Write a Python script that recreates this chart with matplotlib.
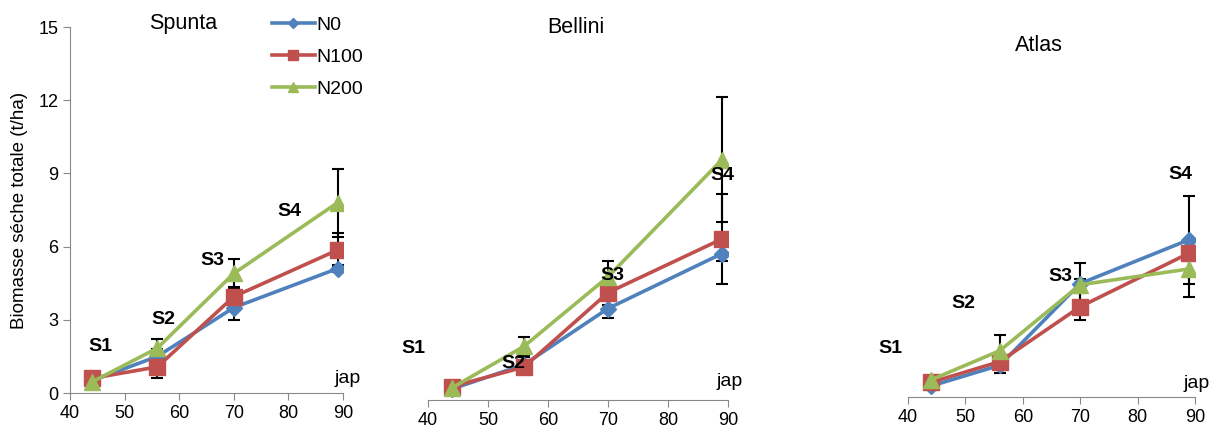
import matplotlib.pyplot as plt
import numpy as np

plt.rcParams['font.family'] = ['Liberation Sans', 'DejaVu Sans']

days = [44, 56, 70, 89]
series = ["N0", "N100", "N200"]

# Spunta
spunta_n0 = [0.5, 1.5, 3.5, 5.1]
spunta_n100 = [0.6, 1.07, 3.95, 5.86]
spunta_n200 = [0.45, 1.84, 4.9, 7.8]
spunta_err_n0 = [0.1, 0.3, 0.5, 0.15]
spunta_err_n100 = [0.1, 0.45, 0.4, 0.7]
spunta_err_n200 = [0.1, 0.36, 0.6, 1.4]

# Bellini
bellini_n0 = [0.45, 1.45, 3.75, 6.0]
bellini_n100 = [0.55, 1.35, 4.4, 6.6]
bellini_n200 = [0.5, 2.2, 5.05, 9.85]
bellini_err_n0 = [0.1, 0.3, 0.4, 0.3]
bellini_err_n100 = [0.1, 0.3, 0.5, 1.85]
bellini_err_n200 = [0.1, 0.4, 0.65, 2.55]

# Atlas
atlas_n0 = [0.45, 1.3, 4.65, 6.45]
atlas_n100 = [0.6, 1.45, 3.7, 5.9]
atlas_n200 = [0.7, 1.9, 4.6, 5.25]
atlas_err_n0 = [0.1, 0.3, 0.2, 1.8]
atlas_err_n100 = [0.1, 0.3, 0.55, 0.3]
atlas_err_n200 = [0.1, 0.65, 0.9, 1.15]

stage_labels = ["S1", "S2", "S3", "S4"]
spunta_stage_pos = [(45.5, 1.9), (57.0, 3.0), (66.1, 5.45), (80.2, 7.45)]
bellini_stage_pos = [(37.5, 2.13), (54.2, 1.5), (70.8, 5.1), (89.0, 9.2)]
atlas_stage_pos = [(36.9, 2.0), (49.6, 3.85), (66.5, 4.95), (87.4, 9.1)]

colors = ["#4F81BD", "#C0504D", "#9BBB59"]
markers = ["D", "s", "^"]
msizes = [8.5, 11, 11.5]

W, H = 1220, 432
fig = plt.figure(figsize=(W / 100, H / 100), dpi=100)


def px_axes(x0, x1, ybot, ytop):
    return fig.add_axes([x0 / W, 1 - ybot / H, (x1 - x0) / W, (ybot - ytop) / H])


panels = [
    dict(rect=(70, 343, 393, 27), title="Spunta", tpos=(60.7, 15.15), jap=(90.8, 0.6),
         vals=[spunta_n0, spunta_n100, spunta_n200],
         errs=[spunta_err_n0, spunta_err_n100, spunta_err_n200],
         stages=spunta_stage_pos, yaxis=True),
    dict(rect=(428, 728, 400, 34), title="Bellini", tpos=(64.7, 15.25), jap=(90.3, 0.75),
         vals=[bellini_n0, bellini_n100, bellini_n200],
         errs=[bellini_err_n0, bellini_err_n100, bellini_err_n200],
         stages=bellini_stage_pos, yaxis=False),
    dict(rect=(908, 1195, 397, 31), title="Atlas", tpos=(62.8, 14.4), jap=(90.3, 0.57),
         vals=[atlas_n0, atlas_n100, atlas_n200],
         errs=[atlas_err_n0, atlas_err_n100, atlas_err_n200],
         stages=atlas_stage_pos, yaxis=False),
]

for i, p in enumerate(panels):
    ax = px_axes(*p["rect"])
    for k in range(3):
        ax.errorbar(days, p["vals"][k], yerr=p["errs"][k], fmt="none",
                    ecolor="black", elinewidth=1.5, capsize=4, capthick=1.5, zorder=1)
        ax.plot(days, p["vals"][k], color=colors[k], marker=markers[k], markersize=msizes[k],
                linewidth=2.6, label=series[k], zorder=2 + k)
    ax.set_xlim(40, 90)
    ax.set_ylim(0, 15)
    ax.set_xticks(range(40, 91, 10))
    ax.tick_params(axis="x", labelsize=13, length=5, color="#888888", direction="out")
    for s in ["top", "right"]:
        ax.spines[s].set_visible(False)
    ax.spines["bottom"].set_color("#888888")
    ax.patch.set_alpha(0)
    if p["yaxis"]:
        ax.set_yticks(range(0, 16, 3))
        ax.tick_params(axis="y", labelsize=13, length=5, color="#888888", direction="out")
        ax.spines["left"].set_color("#888888")
        ax.set_ylabel("Biomasse séche totale (t/ha)", fontsize=13.5)
        ax.yaxis.set_label_coords(-42 / 273, 0.5)
        ax.legend(loc="upper left", bbox_to_anchor=(202 / 273, 1.029), frameon=False,
                  fontsize=14, handlelength=2.2, handletextpad=0.1, labelspacing=0.73,
                  borderaxespad=0, borderpad=0, markerscale=0.65)
    else:
        ax.spines["left"].set_visible(False)
        ax.set_yticks([])
    ax.text(p["tpos"][0], p["tpos"][1], p["title"], ha="center", va="center",
            fontsize=15.5, clip_on=False)
    ax.text(p["jap"][0], p["jap"][1], "jap", ha="center", va="center",
            fontsize=14, clip_on=False)
    for lab, (sx, sy) in zip(stage_labels, p["stages"]):
        ax.text(sx, sy, lab, ha="center", va="center", fontsize=14,
                fontweight="bold", clip_on=False, zorder=6)

fig.savefig("out.png", dpi=100)
